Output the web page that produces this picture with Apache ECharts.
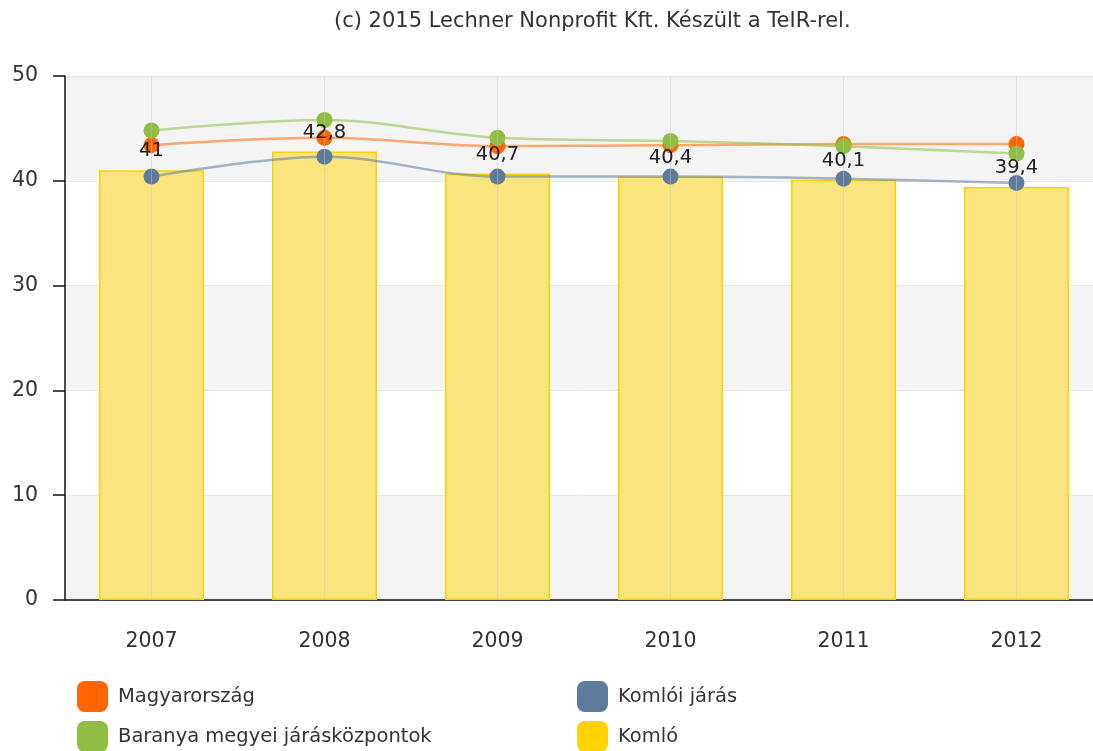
<!DOCTYPE html>
<html>
<head>
<meta charset="utf-8">
<script src="https://cdn.jsdelivr.net/npm/echarts@6/dist/echarts.min.js"></script>
<style>
  html, body { margin: 0; padding: 0; background: #fff; }
  #area { width: 1093px; height: 751px; }
</style>
</head>
<body>
<div id="area"></div>
<script>
var years = ['2007', '2008', '2009', '2010', '2011', '2012'];
var komlo = [41, 42.8, 40.7, 40.4, 40.1, 39.4];
var magyarorszag = [43.4, 44.1, 43.3, 43.4, 43.5, 43.5];
var baranya = [44.8, 45.8, 44.1, 43.8, 43.3, 42.6];
var komloiJaras = [40.4, 42.3, 40.4, 40.4, 40.2, 39.8];
var yTicks = [0, 10, 20, 30, 40, 50];

var font = 'DejaVu Sans';

function comma(v) {
    return String(v).replace('.', ',');
}

// one legend per item so that every square can sit where the original has it
function legendItem(name, color, left, top) {
    return {
        data: [{ name: name, itemStyle: { color: color, borderWidth: 0 } }],
        left: left,
        top: top,
        icon: 'roundRect',
        itemWidth: 31,
        itemHeight: 31,
        selectedMode: false,
        textStyle: {
            fontFamily: font,
            fontSize: 19.5,
            color: '#333',
            padding: [0, 0, 0, 5]
        }
    };
}

function lineSeries(name, data, color) {
    return {
        name: name,
        type: 'line',
        data: data,
        smooth: 0.35,
        symbol: 'circle',
        symbolSize: 16,
        z: 3,
        itemStyle: { color: color },
        lineStyle: { color: color, width: 2.5, opacity: 0.55 }
    };
}

var chart = echarts.init(document.getElementById('area'));

chart.setOption({
    animation: false,
    title: {
        text: '(c) 2015 Lechner Nonprofit Kft. Készült a TeIR-rel.',
        left: 329,
        top: 6,
        textStyle: {
            fontFamily: font,
            fontSize: 21,
            fontWeight: 'normal',
            color: '#333'
        }
    },
    legend: [
        legendItem('Magyarország', '#ff6600', 72, 676),
        legendItem('Baranya megyei járásközpontok', '#8fbe42', 72, 716),
        legendItem('Komlói járás', '#5f7b9c', 572, 676),
        legendItem('Komló', '#ffd200', 572, 716)
    ],
    grid: { left: 65, width: 1038, top: 76, bottom: 151, outerBoundsMode: 'none' },
    xAxis: {
        type: 'category',
        data: years,
        axisLine: { lineStyle: { color: '#111', width: 1.5 } },
        axisTick: { alignWithLabel: true, length: 10, lineStyle: { color: '#111', width: 1.5 } },
        axisLabel: { fontFamily: font, fontSize: 20.5, color: '#333', margin: 31 },
        splitLine: { show: false }
    },
    yAxis: {
        type: 'value',
        min: yTicks[0],
        max: yTicks[yTicks.length - 1],
        interval: 10,
        axisLine: { show: true, lineStyle: { color: '#111', width: 1.5 } },
        axisTick: { show: true, length: 12, lineStyle: { color: '#111', width: 1.5 } },
        axisLabel: { fontFamily: font, fontSize: 20.5, color: '#333', margin: 27 },
        splitLine: { lineStyle: { color: '#e6e6e6' } },
        splitArea: { show: true, areaStyle: { color: ['#f4f4f4', '#ffffff'] } }
    },
    series: [
        {
            name: 'Komló',
            type: 'bar',
            data: komlo,
            barWidth: 105,
            z: 2,
            itemStyle: {
                color: '#f9e47e',
                borderColor: '#fcd200',
                borderWidth: 1.5
            },
            markLine: {
                silent: true,
                symbol: 'none',
                label: { show: false },
                lineStyle: { color: 'rgba(200,200,200,0.45)', type: 'solid', width: 1 },
                data: years.map(function (y) { return { xAxis: y }; })
            }
        },
        lineSeries('Magyarország', magyarorszag, '#ff6600'),
        lineSeries('Baranya megyei járásközpontok', baranya, '#8fbe42'),
        lineSeries('Komlói járás', komloiJaras, '#5f7b9c'),
        {
            // value labels of the Komló bars, kept above the line markers
            name: 'Komló',
            type: 'bar',
            data: komlo,
            barWidth: 105,
            barGap: '-100%',
            z: 10,
            silent: true,
            itemStyle: { color: 'rgba(0,0,0,0)' },
            label: {
                show: true,
                position: 'top',
                distance: 9,
                fontFamily: font,
                fontSize: 19.5,
                color: '#222',
                formatter: function (p) { return comma(p.value); }
            }
        }
    ]
});
</script>
</body>
</html>
